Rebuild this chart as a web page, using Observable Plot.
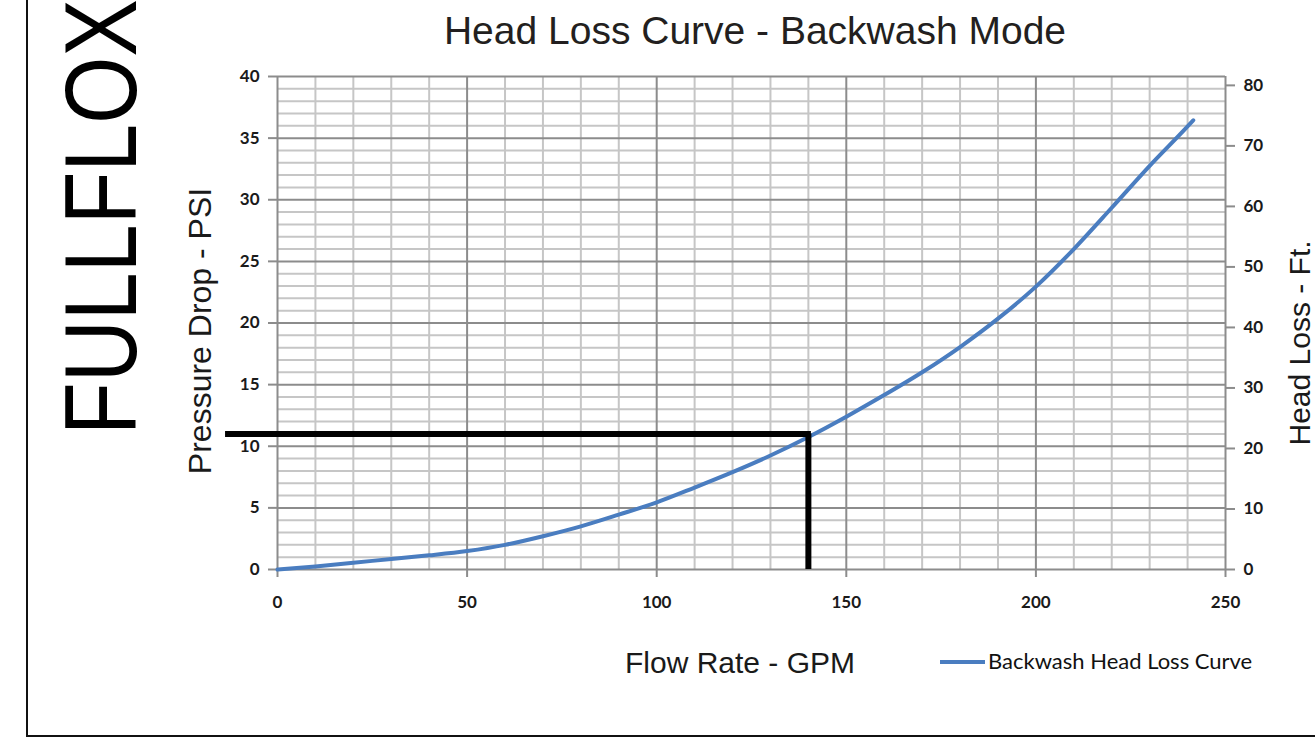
<!DOCTYPE html>
<html>
<head>
<meta charset="utf-8">
<script src="https://cdn.jsdelivr.net/npm/d3@7"></script>
<script src="https://cdn.jsdelivr.net/npm/@observablehq/plot@0.6"></script>
<style>
  html, body { margin: 0; padding: 0; background: #fff; }
  #chart { position: relative; width: 1315px; height: 738px; overflow: hidden; }
</style>
</head>
<body>
<div id="chart"></div>
<script>
// ---- Data ----
const flowGPM = [0, 10, 20, 30, 40, 50, 60, 70, 80, 90, 100, 110, 120, 130, 140, 150, 160, 170, 180, 190, 200, 210, 220, 230, 240, 241.5];
const pressurePSI = [0, 0.25, 0.55, 0.85, 1.15, 1.5, 2.0, 2.7, 3.5, 4.45, 5.45, 6.65, 7.9, 9.25, 10.75, 12.4, 14.15, 16.0, 18.05, 20.35, 22.95, 26.0, 29.35, 32.75, 35.95, 36.45];
const xTicks = [0, 50, 100, 150, 200, 250];
const yTicks = [0, 5, 10, 15, 20, 25, 30, 35, 40];
const xMinor = [10, 20, 30, 40, 60, 70, 80, 90, 110, 120, 130, 140, 160, 170, 180, 190, 210, 220, 230, 240];
const yMinor = [1,2,3,4,6,7,8,9,11,12,13,14,16,17,18,19,21,22,23,24,26,27,28,29,31,32,33,34,36,37,38,39];
const headLossTicks = [0, 10, 20, 30, 40, 50, 60, 70, 80];   // right axis (ft)
const psiPerFt = 0.491;              // where the right-axis ticks sit on the PSI scale (read)
const markerFlow = 140;              // operating point marker (GPM)
const markerPSI = 11;                // operating point marker (PSI)
const markerStartFlow = -13.7;       // horizontal marker extends left past the axis

const titleText = "Head Loss Curve - Backwash Mode";
const xLabel = "Flow Rate - GPM";
const yLabel = "Pressure Drop - PSI";
const y2Label = "Head Loss - Ft.";
const legendLabel = "Backwash Head Loss Curve";
const brand = "FULLFLOX";

const curve = flowGPM.map((f, i) => ({flow: f, psi: pressurePSI[i]}));
const blue = "#4a7dc0";

const svg = Plot.plot({
  width: 1315,
  height: 738,
  marginLeft: 277,
  marginRight: 90,
  marginTop: 76,
  marginBottom: 169,
  x: {domain: [0, 250]},
  y: {domain: [0, 40]},
  style: {fontFamily: "Lato, sans-serif", fontSize: "17px", fontWeight: 700, color: "#1a1a1a", background: "white", overflow: "visible"},
  marks: [
    Plot.ruleX(xMinor, {stroke: "#c6c6c6", strokeWidth: 2}),
    Plot.ruleY(yMinor, {stroke: "#c6c6c6", strokeWidth: 2}),
    Plot.ruleX(xTicks, {stroke: "#8c8c8c", strokeWidth: 2}),
    Plot.ruleY(yTicks, {stroke: "#8c8c8c", strokeWidth: 2}),
    Plot.axisX({ticks: xTicks, tickSize: 8, tickPadding: 18, stroke: "#8c8c8c", strokeWidth: 2, label: null}),
    Plot.axisY({ticks: yTicks, tickSize: 9, tickPadding: 9, stroke: "#8c8c8c", strokeWidth: 2, label: null}),
    Plot.axisY({anchor: "right", ticks: headLossTicks.map(f => f * psiPerFt), tickFormat: d => Math.round(d / psiPerFt), tickSize: 9, tickPadding: 9, stroke: "#8c8c8c", strokeWidth: 2, label: null}),
    Plot.line(curve, {x: "flow", y: "psi", stroke: blue, strokeWidth: 4, curve: "monotone-x"}),
    Plot.ruleY([markerPSI], {x1: markerStartFlow, x2: markerFlow + 0.8, stroke: "#000", strokeWidth: 6}),
    Plot.ruleX([markerFlow], {y1: 0, y2: markerPSI, stroke: "#000", strokeWidth: 6})
  ]
});

const s = d3.select(svg);
const textFont = "'Liberation Sans', Arial, sans-serif";

// frame lines of the sheet
s.append("line").attr("x1", 27).attr("x2", 27).attr("y1", 0).attr("y2", 737).attr("stroke", "#111").attr("stroke-width", 2);
s.append("line").attr("x1", 26).attr("x2", 1315).attr("y1", 736).attr("y2", 736).attr("stroke", "#111").attr("stroke-width", 2);

// brand
s.append("text").text(brand)
  .attr("transform", "translate(136,435) rotate(-90) scale(0.845,1)")
  .attr("text-anchor", "start")
  .attr("font-family", textFont).attr("font-size", 102).attr("font-weight", 400)
  .attr("fill", "#000");

// title
s.append("text").text(titleText)
  .attr("x", 755).attr("y", 44).attr("text-anchor", "middle")
  .attr("font-family", textFont).attr("font-size", 39).attr("font-weight", 400).attr("fill", "#231f20");

// axis labels
s.append("text").text(xLabel)
  .attr("x", 740).attr("y", 673).attr("text-anchor", "middle")
  .attr("font-family", textFont).attr("font-size", 30).attr("font-weight", 400).attr("fill", "#1a1a1a");
s.append("text").text(yLabel)
  .attr("transform", "translate(211,331) rotate(-90)").attr("text-anchor", "middle")
  .attr("font-family", textFont).attr("font-size", 32).attr("font-weight", 400).attr("fill", "#1a1a1a");
s.append("text").text(y2Label)
  .attr("transform", "translate(1310,343) rotate(-90)").attr("text-anchor", "middle")
  .attr("font-family", textFont).attr("font-size", 30).attr("font-weight", 400).attr("fill", "#1a1a1a");

// legend
s.append("line").attr("x1", 940).attr("x2", 985).attr("y1", 662).attr("y2", 662).attr("stroke", blue).attr("stroke-width", 4);
s.append("text").text(legendLabel)
  .attr("x", 988).attr("y", 669).attr("text-anchor", "start")
  .attr("font-family", "Lato, sans-serif").attr("font-size", 22).attr("font-weight", 400).attr("fill", "#111");

document.getElementById("chart").appendChild(svg);
</script>
</body>
</html>
